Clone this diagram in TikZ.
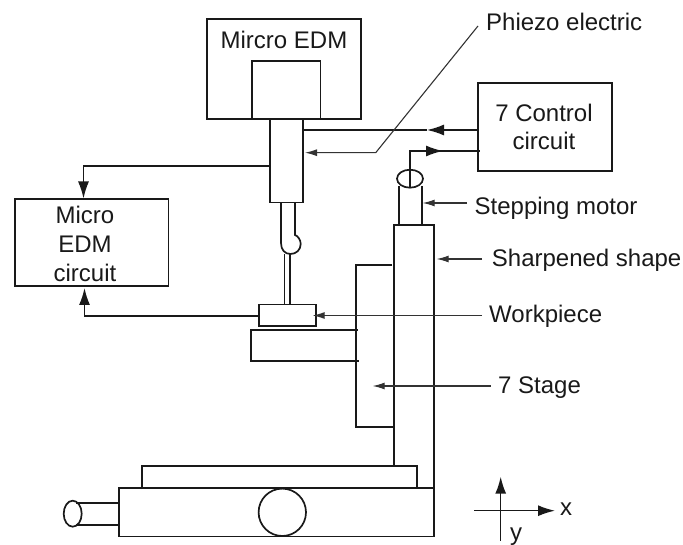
\documentclass[tikz,border=0pt]{standalone}
\usepackage{fontspec}
\setmainfont{Liberation Sans}
\usetikzlibrary{arrows.meta,shapes.geometric}
\tikzset{
  part/.style={draw=black!90,line width=1.7pt,fill=none},
  wire/.style={draw=black!90,line width=1.5pt},
  thinwire/.style={draw=black!80,line width=1.1pt},
  big/.style={-{Latex[length=17pt,width=11pt]}},
  small/.style={-{Latex[length=12pt,width=7pt]}},
  lbl/.style={inner sep=0pt,font=\fontsize{24}{28.7}\selectfont,text=black!90,align=center},
}
\begin{document}
\begin{tikzpicture}[x=1pt,y=-1pt]
\useasboundingbox (0,0) rectangle (683,545);
% boxes
\node[part,minimum width=154pt,minimum height=100pt,inner sep=0pt] (edm) at (284,69) {};
\node[part,minimum width=68.5pt,minimum height=58pt,inner sep=0pt] (inner) at (286.2,90) {};
\node[lbl,anchor=base] (edmt) at (284,48.7) {Mircro EDM};
\node[part,minimum width=134pt,minimum height=88pt,inner sep=0pt] (ctrl) at (544.7,127) {};
\node[lbl,anchor=center] (ctrlt) at (544,127) {7 Control\\circuit};
\node[part,minimum width=153.5pt,minimum height=86.7pt,inner sep=0pt] (mc) at (91.8,242.7) {};
\node[lbl,anchor=center] (mct) at (85,244) {Micro\\EDM\\circuit};
% column holder
\coordinate (c1) at (270,119);
\coordinate (c2) at (270,202.5);
\coordinate (c3) at (303,202.5);
\coordinate (c4) at (303,119);
\draw[part] (c1) -- (c2) -- (c3) -- (c4);
% tool
\draw[part] (281,202.5) -- (281,243) .. controls (281,250) and (285,254) .. (290.5,254) .. controls (296,254) and (300.7,250) .. (300.7,244) .. controls (300.7,240) and (298,236) .. (295,235) -- (295,202.5);
\draw[part] (284.5,254) -- (284.5,304);
\draw[part] (289.7,254) -- (289.7,304);
% workpiece and table
\node[part,minimum width=57pt,minimum height=21.5pt,inner sep=0pt] (wp) at (287.5,315.4) {};
\draw[part] (357.5,330) -- (251,330) -- (251,360.7) -- (358.5,360.7);
% stage
\draw[part] (392,265) -- (356.3,265) -- (356.3,427) -- (393.7,427);
% main column
\draw[part] (393.7,465) -- (393.7,224.7) -- (433.7,224.7) -- (433.7,488);
% motor
\node[part,ellipse,minimum width=26pt,minimum height=18pt,inner sep=0pt] (mot) at (410,178.7) {};
\draw[part] (399.3,186) -- (399.3,224.7);
\draw[part] (421.7,186) -- (421.7,224.7);
% base
\draw[part] (141.7,489) -- (141.7,466) -- (416.7,466) -- (416.7,488);
\node[part,minimum width=315pt,minimum height=48.5pt,inner sep=0pt] (base) at (276.5,512.3) {};
\node[part,circle,minimum size=47.4pt,inner sep=0pt] (wheel) at (282.3,512.3) {};
\node[part,ellipse,minimum width=18pt,minimum height=26pt,inner sep=0pt] (lc) at (72.7,513.7) {};
\draw[part] (76,502.7) -- (119,502.7);
\draw[part] (76,525) -- (119,525);
% connectors
\coordinate (a1) at (427,130);
\draw[wire,big] (ctrl.west |- a1) -- (a1);
\draw[wire] (a1) -- (303,130);
\coordinate (mw) at (410,187);
\coordinate (mk) at (410,151);
\draw[wire] (mw) -- (mk) -- (480,151);
\draw[wire,big] (mk) -- (443,151);
\draw[wire,big] (c2 |- 0,166) -- (83.5,166) -- (mc.north -| 83.5,0);
\draw[wire,big] (wp.west |- 0,316) -- (84.5,316) -- (84.5,288);
\draw[thinwire,small] (478,26) -- (375.7,152.7) -- (305,152.7);
\draw[thinwire,small] (467,203) -- (422.7,203);
\draw[thinwire,small] (482,259) -- (436.7,259);
\draw[thinwire,small] (482,315.5) -- (312.7,315.5);
\draw[thinwire,small] (490.7,386) -- (372.7,386);
% axes
\draw[wire,big] (474.3,510.7) -- (555,510.7);
\draw[wire,big] (500.7,540.7) -- (500.7,476.7);
% labels
\node[lbl,anchor=base west] (l1) at (486,31) {Phiezo electric};
\node[lbl,anchor=base west] (l2) at (474.5,215) {Stepping motor};
\node[lbl,anchor=base west] (l3) at (491.7,266.5) {Sharpened shape};
\node[lbl,anchor=base west] (l4) at (489,322.7) {Workpiece};
\node[lbl,anchor=base west] (l5) at (498,393) {7 Stage};
\node[lbl,anchor=base west] (lx) at (560,515) {x};
\node[lbl,anchor=base west] (ly) at (510,540) {y};
\end{tikzpicture}
\end{document}
